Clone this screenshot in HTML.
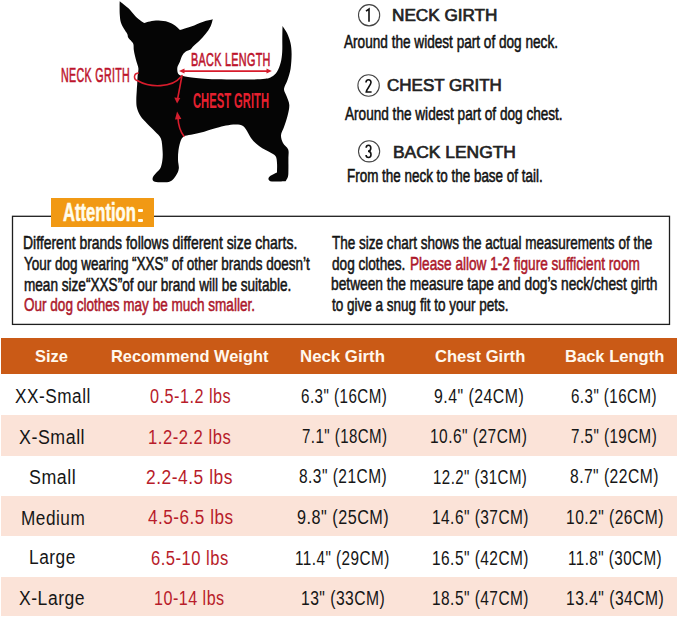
<!DOCTYPE html>
<html><head><meta charset="utf-8"><style>
html,body{margin:0;padding:0;background:#fff;}
body{width:679px;height:619px;position:relative;overflow:hidden;font-family:"Liberation Sans",sans-serif;}
.t{position:absolute;white-space:nowrap;transform-origin:0 0;font-family:"Liberation Sans",sans-serif;}
.r{position:absolute;box-sizing:border-box;}
</style></head><body>
<svg style="position:absolute;left:0;top:0" width="679" height="200" viewBox="0 0 679 200">
<path fill="#050505" d="M119.7 1.2 C121.12 2.35 125.58 5.6 128.2 8.1 C130.82 10.6 133.27 14.05 135.4 16.2 C137.53 18.35 139.52 19.87 141 21 C142.48 22.13 143.75 22.67 144.3 23 C145.25 22.75 147.62 21.9 150 21.5 C152.38 21.1 155.6 20.52 158.6 20.6 C161.6 20.68 165.27 21.18 168 22 C170.73 22.82 173 24.17 175 25.5 C177 26.83 179.17 29.25 180 30 C181.87 29.42 187.32 27.88 191.2 26.5 C195.08 25.12 199.7 22.9 203.3 21.7 C206.9 20.5 211.22 19.7 212.8 19.3 C212.42 20.5 211.68 24.08 210.5 26.5 C209.32 28.92 207.58 31.37 205.7 33.8 C203.82 36.23 201.35 38.95 199.2 41.1 C197.05 43.25 194.25 45.3 192.8 46.7 C191.35 48.1 191.72 48.65 190.5 49.5 C189.28 50.35 186.92 50.72 185.5 51.8 C184.08 52.88 182.95 54.3 182 56 C181.05 57.7 180.57 60.12 179.8 62 C179.03 63.88 177.73 65.47 177.4 67.3 C177.07 69.13 177.28 71.62 177.8 73 C178.32 74.38 180.05 75.17 180.5 75.6 C181.75 75.83 183.42 76.45 188 77 C192.58 77.55 198.23 78.48 208 78.9 C217.77 79.32 237.07 79.52 246.6 79.5 C256.13 79.48 261.03 79.25 265.2 78.8 C269.37 78.35 269.63 77.98 271.6 76.8 C273.57 75.62 275.48 74.07 277 71.7 C278.52 69.33 279.83 65.88 280.7 62.6 C281.57 59.32 281.93 56.1 282.2 52 C282.47 47.9 282.25 42.35 282.3 38 C282.35 33.65 282.47 27.92 282.5 25.9 C283.25 27.08 285.67 30.15 287 33 C288.33 35.85 289.73 39.5 290.5 43 C291.27 46.5 291.58 49.72 291.6 54 C291.62 58.28 291.28 64.37 290.6 68.7 C289.92 73.03 288.6 76.62 287.5 80 C286.4 83.38 284.17 86.33 284 89 C283.83 91.67 285.62 93.33 286.5 96 C287.38 98.67 289.13 101.67 289.3 105 C289.47 108.33 288.38 112.33 287.5 116 C286.62 119.67 285.08 123.8 284 127 C282.92 130.2 281.17 132.53 281 135.2 C280.83 137.87 281.8 140.62 283 143 C284.2 145.38 287.3 147 288.2 149.5 C289.1 152 288.37 154.58 288.4 158 C288.43 161.42 288.47 166.92 288.4 170 C288.33 173.08 288.47 174.62 288 176.5 C287.53 178.38 286 180.5 285.6 181.3 C283.33 181.33 274.85 181.85 272 181.5 C269.15 181.15 268.75 180.15 268.5 179.2 C268.25 178.25 269.08 176.93 270.5 175.8 C271.92 174.67 275.92 172.97 277 172.4 C277 170.83 277.25 165.73 277 163 C276.75 160.27 276.83 157.87 275.5 156 C274.17 154.13 271.2 153.1 269 151.8 C266.8 150.5 264.47 149.58 262.3 148.2 C260.13 146.82 257.88 145.2 256 143.5 C254.12 141.8 252.5 140.08 251 138 C249.5 135.92 248.33 133 247 131 C245.67 129 244.83 127.08 243 126 C241.17 124.92 238.83 124.58 236 124.5 C233.17 124.42 229.3 124.92 226 125.5 C222.7 126.08 220.53 126.78 216.2 128 C211.87 129.22 205.37 131.47 200 132.8 C194.63 134.13 186.67 135.47 184 136 C183.5 136.67 181.92 137.67 181 140 C180.08 142.33 179 146.67 178.5 150 C178 153.33 177.95 156.92 178 160 C178.05 163.08 179.13 165.92 178.8 168.5 C178.47 171.08 177.47 173.33 176 175.5 C174.53 177.67 172.67 180.37 170 181.5 C167.33 182.63 162.72 182.35 160 182.3 C157.28 182.25 154.9 182 153.7 181.2 C152.5 180.4 152.33 178.95 152.8 177.5 C153.27 176.05 155.22 174.08 156.5 172.5 C157.78 170.92 159.52 170.08 160.5 168 C161.48 165.92 162.05 162.83 162.4 160 C162.75 157.17 162.85 154.58 162.6 151 C162.35 147.42 162.17 141.75 160.9 138.5 C159.63 135.25 157.32 134 155 131.5 C152.68 129 149.42 126.08 147 123.5 C144.58 120.92 142.17 118.58 140.5 116 C138.83 113.42 137.7 110.67 137 108 C136.3 105.33 136.33 103 136.3 100 C136.27 97 136.65 92.67 136.8 90 C136.95 87.33 137.07 86.33 137.2 84 C137.33 81.67 137.4 78.58 137.6 76 C137.8 73.42 138.57 70.83 138.4 68.5 C138.23 66.17 137.17 64.08 136.6 62 C136.03 59.92 135.47 58 135 56 C134.53 54 134.07 51.97 133.8 50 C133.53 48.03 133.8 45.67 133.4 44.2 C133 42.73 132.27 42.32 131.4 41.2 C130.53 40.08 128.88 38.7 128.2 37.5 C127.52 36.3 127.98 35.4 127.3 34 C126.62 32.6 125.17 31 124.1 29.1 C123.03 27.2 121.62 24.95 120.9 22.6 C120.18 20.25 120.02 17.6 119.8 15 C119.58 12.4 119.62 9.3 119.6 7 C119.58 4.7 119.68 2.17 119.7 1.2Z"/>
<g fill="none" stroke="#d81c2c" stroke-width="1.6" stroke-linecap="round">
<path d="M138.2 81 C150 87.8 172 87.8 180.5 77.2"/>
<path d="M138.3 73 C133.5 73.5 133 80 138.2 81"/>
<path d="M182 75.5 L177.6 99"/>
<path d="M177.9 117 C178.2 124 180 131 183.9 136.2"/>
<path d="M183 71.1 L268 71.1"/>
</g>
<g fill="#d41e2e">
<path d="M174.3 97.6 L177.1 103.6 L180.3 97.9 Z"/>
<path d="M175 119.6 L177.1 111.4 L181.4 119 Z"/>
<path d="M179 71.1 L184.5 68.6 L184.5 73.6 Z"/>
<path d="M271.8 71.1 L266.5 68.6 L266.5 73.6 Z"/>
</g>
</svg>
<svg style="position:absolute;left:0;top:200px" width="679" height="130" viewBox="0 200 679 130"><rect x="12.5" y="216.3" width="657" height="108.1" fill="none" stroke="#1e1e1e" stroke-width="1.3"/></svg>
<div class="r" style="left:51.1px;top:198.4px;width:102.9px;height:29px;background:#f19914;"></div>
<div class="r" style="left:138.2px;top:208.6px;width:5.2px;height:3.6px;background:#fffcec;border-radius:1px;"></div>
<div class="r" style="left:138px;top:218.6px;width:5.2px;height:3.6px;background:#fffcec;border-radius:1px;"></div>
<svg style="position:absolute;left:0;top:0" width="679" height="200" viewBox="0 0 679 200">
<g fill="none" stroke="#444" stroke-width="1.1">
<circle cx="369.1" cy="15.25" r="10.6"/>
<circle cx="368.6" cy="85.5" r="10.7"/>
<circle cx="369.1" cy="151.3" r="10.6"/>
</g>
<g fill="none" stroke="#111" stroke-width="1.6">
<path d="M366 11.2 L369 9 L369 21.8"/>
<path d="M366 82.5 C366 80.5 367.3 79.8 368.5 79.8 C370 79.8 371 80.8 371 82.6 C371 85 366.2 89.5 366.2 92 L371.6 92"/>
<path d="M366.2 147.8 C366.2 146 367.2 145.3 368.5 145.3 C370 145.3 370.8 146.3 370.8 148 C370.8 150 369.8 151.2 368 151.2 C370 151.2 371 152.3 371 154.5 C371 156.5 370 157.5 368.5 157.5 C367 157.5 366.1 156.6 366.1 155"/>
</g>
</svg>
<div class="r" style="left:1.3px;top:338.2px;width:675.4px;height:35.9px;background:#ca5a16;"></div>
<div class="r" style="left:1.3px;top:414.8px;width:675.4px;height:41px;background:#fbe3d8;"></div>
<div class="r" style="left:1.3px;top:495.8px;width:675.4px;height:40.4px;background:#fbe3d8;"></div>
<div class="r" style="left:1.3px;top:577px;width:675.4px;height:39.2px;background:#fbe3d8;"></div>

<div class="t" style="left:391.85px;top:8.35px;font-size:15.67px;line-height:15.67px;font-weight:normal;color:#222222;transform:scaleX(1.0957);-webkit-text-stroke:0.65px currentColor;">NECK GIRTH</div>
<div class="t" style="left:343.67px;top:32.55px;font-size:18.55px;line-height:18.55px;font-weight:normal;color:#111111;transform:scaleX(0.7339);-webkit-text-stroke:0.55px currentColor;">Around the widest part of dog neck.</div>
<div class="t" style="left:387.42px;top:77.72px;font-size:15.81px;line-height:15.81px;font-weight:normal;color:#222222;transform:scaleX(1.0758);-webkit-text-stroke:0.65px currentColor;">CHEST GRITH</div>
<div class="t" style="left:345.17px;top:104.55px;font-size:18.55px;line-height:18.55px;font-weight:normal;color:#111111;transform:scaleX(0.7336);-webkit-text-stroke:0.55px currentColor;">Around the widest part of dog chest.</div>
<div class="t" style="left:393.34px;top:144.47px;font-size:16.10px;line-height:16.10px;font-weight:normal;color:#222222;transform:scaleX(1.0822);-webkit-text-stroke:0.65px currentColor;">BACK LENGTH</div>
<div class="t" style="left:346.57px;top:166.93px;font-size:18.11px;line-height:18.11px;font-weight:normal;color:#111111;transform:scaleX(0.7418);-webkit-text-stroke:0.55px currentColor;">From the neck to the base of tail.</div>
<div class="t" style="left:60.76px;top:66.26px;font-size:19.51px;line-height:19.51px;font-weight:normal;color:#bd142c;transform:scaleX(0.5473);-webkit-text-stroke:0.6px currentColor;letter-spacing:0.6px;">NECK GRITH</div>
<div class="t" style="left:190.72px;top:51.11px;font-size:18.49px;line-height:18.49px;font-weight:normal;color:#bd142c;transform:scaleX(0.5863);-webkit-text-stroke:0.6px currentColor;letter-spacing:0.5px;">BACK LENGTH</div>
<div class="t" style="left:193.01px;top:89.82px;font-size:21.22px;line-height:21.22px;font-weight:bold;color:#e5202f;transform:scaleX(0.5283);">CHEST GRITH</div>
<div class="t" style="left:63.08px;top:199.92px;font-size:25.09px;line-height:25.09px;font-weight:bold;color:#fffcec;transform:scaleX(0.6615);-webkit-text-stroke:0.55px currentColor;">Attention</div>
<div class="t" style="left:22.97px;top:234.03px;font-size:18.55px;line-height:18.55px;font-weight:normal;color:#141414;transform:scaleX(0.7536);-webkit-text-stroke:0.55px currentColor;">Different brands follows different size charts.</div>
<div class="t" style="left:24.16px;top:255.06px;font-size:18.55px;line-height:18.55px;font-weight:normal;color:#141414;transform:scaleX(0.7271);-webkit-text-stroke:0.55px currentColor;">Your dog wearing “XXS” of other brands doesn’t</div>
<div class="t" style="left:23.59px;top:275.55px;font-size:18.55px;line-height:18.55px;font-weight:normal;color:#141414;transform:scaleX(0.7332);-webkit-text-stroke:0.55px currentColor;">mean size“XXS”of our brand will be suitable.</div>
<div class="t" style="left:24.04px;top:295.94px;font-size:18.69px;line-height:18.69px;font-weight:normal;color:#ad182b;transform:scaleX(0.7243);-webkit-text-stroke:0.55px currentColor;">Our dog clothes may be much smaller.</div>
<div class="t" style="left:331.86px;top:233.56px;font-size:18.55px;line-height:18.55px;font-weight:normal;color:#141414;transform:scaleX(0.7298);-webkit-text-stroke:0.55px currentColor;">The size chart shows the actual measurements of the</div>
<div class="t" style="left:331.74px;top:254.54px;font-size:18.55px;line-height:18.55px;font-weight:normal;color:#141414;transform:scaleX(0.7340);-webkit-text-stroke:0.55px currentColor;">dog clothes.</div>
<div class="t" style="left:410.08px;top:254.54px;font-size:18.55px;line-height:18.55px;font-weight:normal;color:#ad182b;transform:scaleX(0.7348);-webkit-text-stroke:0.55px currentColor;">Please allow 1-2 figure sufficient room</div>
<div class="t" style="left:331.17px;top:275.04px;font-size:18.55px;line-height:18.55px;font-weight:normal;color:#141414;transform:scaleX(0.7426);-webkit-text-stroke:0.55px currentColor;">between the measure tape and dog’s neck/chest girth</div>
<div class="t" style="left:331.98px;top:296.06px;font-size:18.55px;line-height:18.55px;font-weight:normal;color:#141414;transform:scaleX(0.7291);-webkit-text-stroke:0.55px currentColor;">to give a snug fit to your pets.</div>
<div class="t" style="left:35.35px;top:348.58px;font-size:16.57px;line-height:16.57px;font-weight:bold;color:#fff8ee;transform:scaleX(0.9955);">Size</div>
<div class="t" style="left:111.29px;top:348.58px;font-size:16.57px;line-height:16.57px;font-weight:bold;color:#fff8ee;transform:scaleX(0.9907);">Recommend Weight</div>
<div class="t" style="left:300.26px;top:348.58px;font-size:16.57px;line-height:16.57px;font-weight:bold;color:#fff8ee;transform:scaleX(1.0146);">Neck Girth</div>
<div class="t" style="left:434.66px;top:348.58px;font-size:16.57px;line-height:16.57px;font-weight:bold;color:#fff8ee;transform:scaleX(1.0009);">Chest Girth</div>
<div class="t" style="left:564.77px;top:348.58px;font-size:16.57px;line-height:16.57px;font-weight:bold;color:#fff8ee;transform:scaleX(0.9988);">Back Length</div>
<div class="t" style="left:14.72px;top:387.01px;font-size:19.91px;line-height:19.91px;font-weight:normal;color:#161616;transform:scaleX(0.8647);letter-spacing:0.6px;">XX-Small</div>
<div class="t" style="left:149.82px;top:387.12px;font-size:19.91px;line-height:19.91px;font-weight:normal;color:#b81c2a;transform:scaleX(0.8150);letter-spacing:0.6px;">0.5-1.2 lbs</div>
<div class="t" style="left:300.60px;top:386.61px;font-size:19.91px;line-height:19.91px;font-weight:normal;color:#161616;transform:scaleX(0.7622);letter-spacing:0.6px;">6.3" (16CM)</div>
<div class="t" style="left:434.45px;top:387.12px;font-size:19.91px;line-height:19.91px;font-weight:normal;color:#161616;transform:scaleX(0.7967);letter-spacing:0.6px;">9.4" (24CM)</div>
<div class="t" style="left:571.10px;top:386.64px;font-size:19.91px;line-height:19.91px;font-weight:normal;color:#161616;transform:scaleX(0.7596);letter-spacing:0.6px;">6.3" (16CM)</div>
<div class="t" style="left:19.13px;top:427.51px;font-size:19.91px;line-height:19.91px;font-weight:normal;color:#161616;transform:scaleX(0.8949);letter-spacing:0.6px;">X-Small</div>
<div class="t" style="left:147.75px;top:427.74px;font-size:19.91px;line-height:19.91px;font-weight:normal;color:#b81c2a;transform:scaleX(0.8364);letter-spacing:0.6px;">1.2-2.2 lbs</div>
<div class="t" style="left:301.64px;top:427.34px;font-size:19.91px;line-height:19.91px;font-weight:normal;color:#161616;transform:scaleX(0.7555);letter-spacing:0.6px;">7.1" (18CM)</div>
<div class="t" style="left:430.39px;top:426.85px;font-size:19.91px;line-height:19.91px;font-weight:normal;color:#161616;transform:scaleX(0.7796);letter-spacing:0.6px;">10.6" (27CM)</div>
<div class="t" style="left:571.14px;top:427.24px;font-size:19.91px;line-height:19.91px;font-weight:normal;color:#161616;transform:scaleX(0.7613);letter-spacing:0.6px;">7.5" (19CM)</div>
<div class="t" style="left:28.83px;top:468.10px;font-size:19.91px;line-height:19.91px;font-weight:normal;color:#161616;transform:scaleX(0.8954);letter-spacing:0.6px;">Small</div>
<div class="t" style="left:146.24px;top:468.11px;font-size:19.91px;line-height:19.91px;font-weight:normal;color:#b81c2a;transform:scaleX(0.8731);letter-spacing:0.6px;">2.2-4.5 lbs</div>
<div class="t" style="left:299.13px;top:467.45px;font-size:19.91px;line-height:19.91px;font-weight:normal;color:#161616;transform:scaleX(0.7788);letter-spacing:0.6px;">8.3" (21CM)</div>
<div class="t" style="left:433.44px;top:467.92px;font-size:19.91px;line-height:19.91px;font-weight:normal;color:#161616;transform:scaleX(0.7551);letter-spacing:0.6px;">12.2" (31CM)</div>
<div class="t" style="left:570.11px;top:467.35px;font-size:19.91px;line-height:19.91px;font-weight:normal;color:#161616;transform:scaleX(0.7844);letter-spacing:0.6px;">8.7" (22CM)</div>
<div class="t" style="left:20.71px;top:508.80px;font-size:19.91px;line-height:19.91px;font-weight:normal;color:#161616;transform:scaleX(0.8631);letter-spacing:0.6px;">Medium</div>
<div class="t" style="left:147.74px;top:507.86px;font-size:19.91px;line-height:19.91px;font-weight:normal;color:#b81c2a;transform:scaleX(0.8594);letter-spacing:0.6px;">4.5-6.5 lbs</div>
<div class="t" style="left:297.42px;top:507.91px;font-size:19.91px;line-height:19.91px;font-weight:normal;color:#161616;transform:scaleX(0.8147);letter-spacing:0.6px;">9.8" (25CM)</div>
<div class="t" style="left:431.90px;top:508.05px;font-size:19.91px;line-height:19.91px;font-weight:normal;color:#161616;transform:scaleX(0.7763);letter-spacing:0.6px;">14.6" (37CM)</div>
<div class="t" style="left:565.83px;top:507.99px;font-size:19.91px;line-height:19.91px;font-weight:normal;color:#161616;transform:scaleX(0.7831);letter-spacing:0.6px;">10.2" (26CM)</div>
<div class="t" style="left:29.22px;top:548.33px;font-size:19.91px;line-height:19.91px;font-weight:normal;color:#161616;transform:scaleX(0.8708);letter-spacing:0.6px;">Large</div>
<div class="t" style="left:151.33px;top:548.62px;font-size:19.91px;line-height:19.91px;font-weight:normal;color:#b81c2a;transform:scaleX(0.8324);letter-spacing:0.6px;">6.5-10 lbs</div>
<div class="t" style="left:295.42px;top:548.86px;font-size:19.91px;line-height:19.91px;font-weight:normal;color:#161616;transform:scaleX(0.7673);letter-spacing:0.6px;">11.4" (29CM)</div>
<div class="t" style="left:431.90px;top:548.65px;font-size:19.91px;line-height:19.91px;font-weight:normal;color:#161616;transform:scaleX(0.7763);letter-spacing:0.6px;">16.5" (42CM)</div>
<div class="t" style="left:567.92px;top:548.93px;font-size:19.91px;line-height:19.91px;font-weight:normal;color:#161616;transform:scaleX(0.7624);letter-spacing:0.6px;">11.8" (30CM)</div>
<div class="t" style="left:18.66px;top:588.89px;font-size:19.91px;line-height:19.91px;font-weight:normal;color:#161616;transform:scaleX(0.8813);letter-spacing:0.6px;">X-Large</div>
<div class="t" style="left:153.90px;top:589.13px;font-size:19.91px;line-height:19.91px;font-weight:normal;color:#b81c2a;transform:scaleX(0.8095);letter-spacing:0.6px;">10-14 lbs</div>
<div class="t" style="left:300.83px;top:589.17px;font-size:19.91px;line-height:19.91px;font-weight:normal;color:#161616;transform:scaleX(0.7867);letter-spacing:0.6px;">13" (33CM)</div>
<div class="t" style="left:431.90px;top:589.25px;font-size:19.91px;line-height:19.91px;font-weight:normal;color:#161616;transform:scaleX(0.7763);letter-spacing:0.6px;">18.5" (47CM)</div>
<div class="t" style="left:565.83px;top:589.20px;font-size:19.91px;line-height:19.91px;font-weight:normal;color:#161616;transform:scaleX(0.7866);letter-spacing:0.6px;">13.4" (34CM)</div>
</body></html>
